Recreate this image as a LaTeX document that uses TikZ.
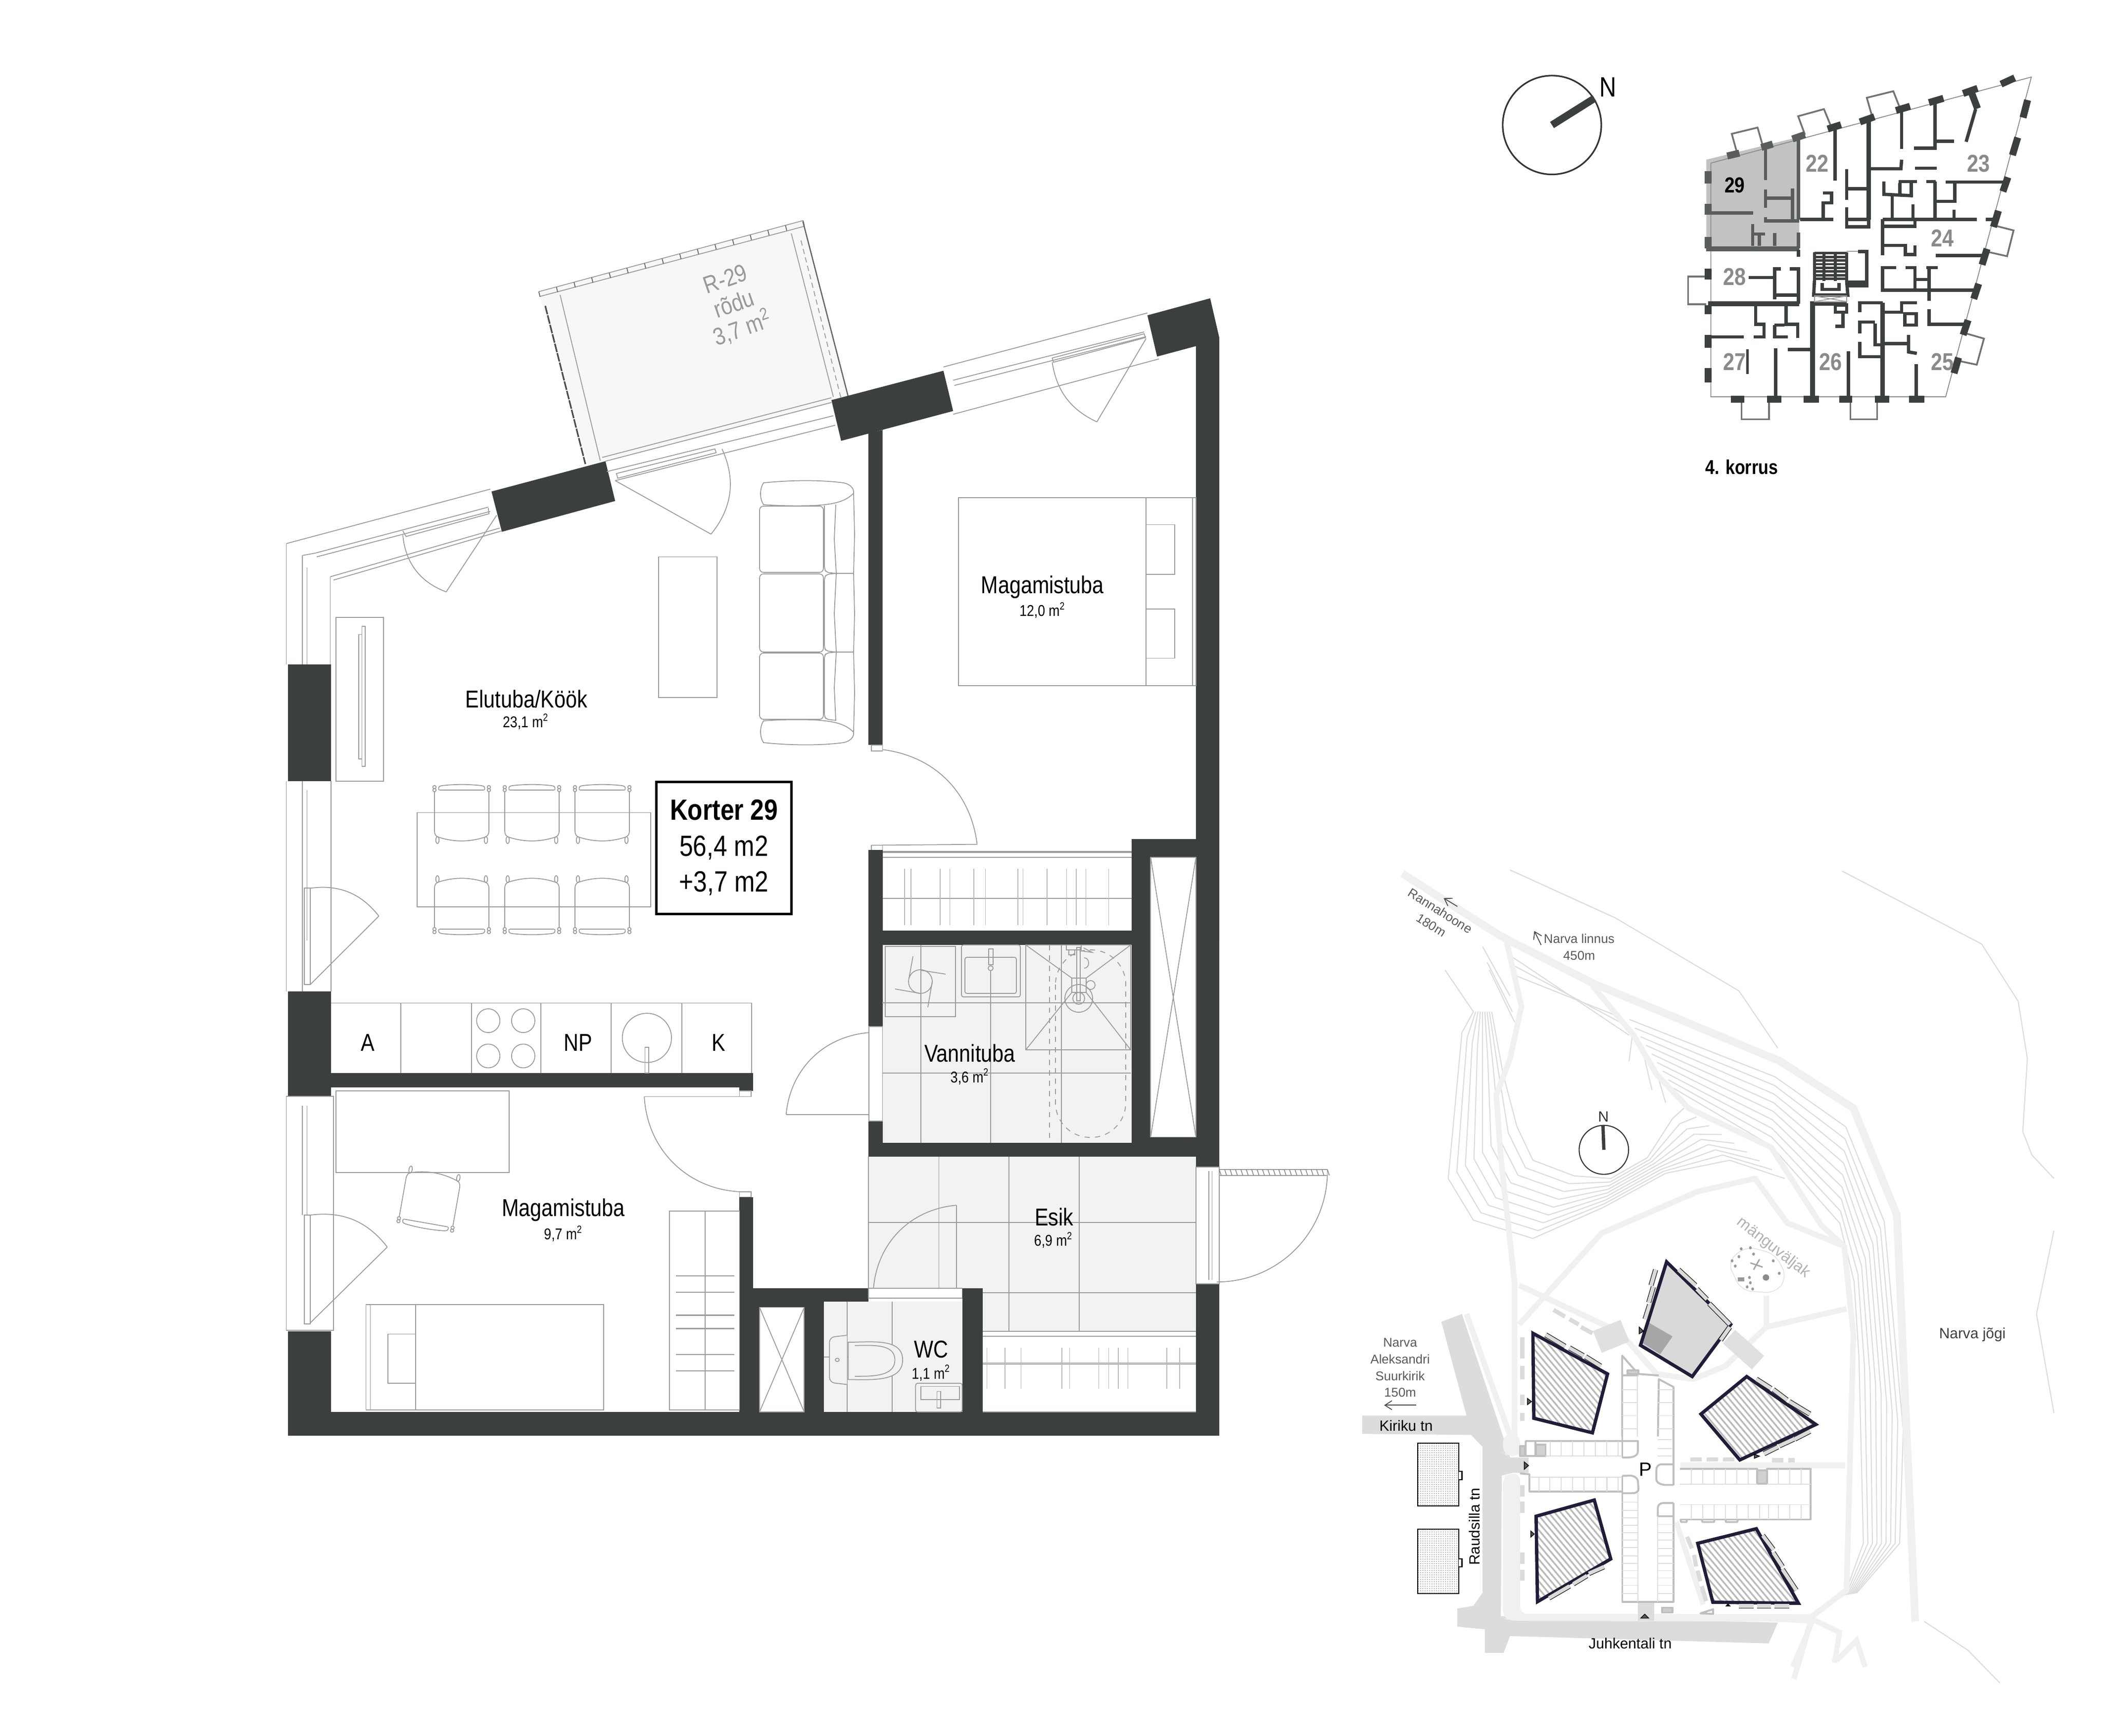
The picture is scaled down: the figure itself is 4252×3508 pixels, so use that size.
\documentclass[tikz,border=0pt]{standalone}
\usepackage{fontspec}
\setmainfont[FakeStretch=0.84]{Liberation Sans}
\newfontfamily\sitefont{Liberation Sans}
\usetikzlibrary{calc,patterns,patterns.meta,arrows.meta,shapes.geometric}
\definecolor{wall}{HTML}{3C3F3F}
\definecolor{wall2}{HTML}{5A5D5D}
\definecolor{fur}{HTML}{9C9C9C}
\definecolor{tile}{HTML}{F2F2F2}
\definecolor{glab}{HTML}{8A8A8A}
\definecolor{pathg}{HTML}{F0F0F0}
\definecolor{cont}{HTML}{DCDCDC}
\definecolor{road}{HTML}{DCDCDC}
\definecolor{bld}{HTML}{221C38}
\tikzset{
 z1/.style={shift={(500,400)},x=0.013074cm,y=-0.009566cm},
 z2/.style={shift={(500,1700)},x=0.013074cm,y=-0.008291cm},
 z3/.style={shift={(3000,100)},x=0.007653cm,y=-0.00574cm},
 z4/.style={shift={(2700,1750)},x=0.009247cm,y=-0.010523cm},
 z5/.style={shift={(3000,2900)},x=0.00574cm,y=-0.00333cm},
 wl/.style={fill=wall,draw=none},
 fu/.style={draw=fur,line width=.5pt},
 fl/.style={draw=fur!70,line width=.4pt},
 lb/.style={inner sep=0pt,align=center,font=\fontsize{14}{17}\selectfont},
 ls/.style={inner sep=0pt,align=center,font=\fontsize{9}{11}\selectfont},
 lk/.style={inner sep=0pt,align=center,font=\fontsize{16.8}{20.6}\selectfont},
 kn/.style={inner sep=0pt,font=\bfseries\fontsize{14}{16}\selectfont,text=glab},
 kw/.style={draw=wall,line width=1.9pt},
 kb/.style={draw=wall,line width=4pt},
 ku/.style={draw=wall2,line width=1.9pt},
 kub/.style={draw=wall2,line width=4pt},
 kbal/.style={draw=black!55,line width=1pt},
 sp1/.style={draw=pathg,line width=4.4pt,line join=round},
 sp2/.style={draw=pathg,line width=3.2pt,line join=round},
 ct/.style={draw=cont,line width=.6pt,line join=round},
 pk/.style={draw=black!25,line width=1.1pt,line join=round},
 pkt/.style={draw=black!13,line width=.5pt},
 bd/.style={draw=bld,line width=1.9pt,line join=miter},
 st/.style={inner sep=0pt,align=center,text=black!65,font=\sitefont\fontsize{7.3}{9.6}\selectfont},
 sb/.style={inner sep=0pt,font=\sitefont\fontsize{8.5}{10}\selectfont},
 tri/.style={fill=black!65,draw=black,line width=.4pt},
 dsh/.style={draw=black!14,line width=2.4pt},
 chairp/.pic={
  \draw[fu] (-55,0) -- (-55,78) .. controls (-55,88) and (-52,91) .. (-44,93) .. controls (-15,102) and (15,102) .. (44,93) .. controls (52,91) and (55,88) .. (55,78) -- (55,0);
  \draw[fu] (-45,-3) -- (45,-3);
  \draw[fu] (-46,-3) .. controls (-48,-10) and (-45,-11) .. (-40,-12) .. controls (-15,-15) and (15,-15) .. (40,-12) .. controls (45,-11) and (48,-10) .. (46,-3);
  \foreach \s in {-1,1}{
   \draw[fu] (\s*55,-9) circle (3.3); \draw[fu] (\s*55,-3) circle (3.3);
   \draw[fu] (\s*49,98) circle [x radius=3.3,y radius=7];
  }
 }
}
\newcommand{\balc}[2]{\draw[draw=black!85,line width=2.9pt] #1 -- #2; \draw[draw=black!14,line width=2.1pt] #1 -- #2;}
\begin{document}
\begin{tikzpicture}[x=0.01cm,y=-0.01cm]
\useasboundingbox (0,0) rectangle (4252,3508);
\fill[white] (0,0) rectangle (4252,3508);

%% ---------- PLAN upper
\begin{scope}[z1]
 \fill[tile!60!white] (450,200) -- (858,50) -- (929,425) -- (527,565) -- cycle;
 \coordinate (ha) at (450,198); \coordinate (hb) at (858,48);
 \draw[fu] (ha) -- (hb);
 \draw[fu] (452,208) -- (860,60);
 \foreach \t in {0,0.0667,...,1.01} \draw[draw=black!60,line width=.5pt] ($(ha)!\t!(hb)$) -- +(2,11);
 \draw[draw=black!70,line width=.9pt,dash pattern=on 5pt off .6pt] (460,228) -- (522,562);
 \draw[fu] (483,205) -- (545,555);
 \draw[fu] (840,75) -- (905,420);
 \draw[draw=black!60,line width=.7pt] (858,50) -- (928,420);
 \draw[fu,densely dashed] (855,90) -- (920,440);
 % facade blocks
 \fill[wl] (377,620) -- (553,556) -- (568,640) -- (393,705) -- cycle;
 \fill[wl] (902,427) -- (1075,365) -- (1090,450) -- (917,513) -- cycle;
 \fill[wl] (1390,248) -- (1487,212) -- (1501,295) -- (1501,1568) -- (1465,1568) -- (1465,313) -- (1405,335) -- cycle;
 \fill[wl] (959,497) -- (981,490) -- (981,1155) -- (959,1155) -- cycle;
 \fill[wl] (63,985) rectangle (129,1232);
 % west top window
 \draw[fu] (60,730) -- (375,615);
 \draw[fu] (105,750) -- (372,653); \draw[fu] (107,758) -- (375,662);
 \draw[fu] (128,800) -- (390,697); \draw[fu] (133,807) -- (393,703);
 \draw[fu] (60,730) -- (60,985); \draw[fu] (85,755) -- (85,985); \draw[fu] (92,780) -- (92,985);
 \draw[fu] (128,800) -- (128,985); \draw[fu] (85,755) -- (105,750);
 \draw[fu] (240,703) -- (245,715) -- (373,667) -- (372,655);
 \draw[fu] (240,712) to[bend right=32] (307,832);
 \draw[fu] (307,832) -- (385,670);
 % balcony door
 \draw[fu] (548,548) -- (902,422); \draw[fu] (553,556) -- (902,432);
 \draw[fu] (555,578) -- (905,460); \draw[fu] (568,597) -- (908,480);
 \draw[fu] (570,582) -- (722,530) -- (724,538) -- (572,592) -- cycle;
 \draw[fu] (568,597) -- (716,710);
 \draw[fu] (716,710) to[bend right=32] (733,530);
 % east top window
 \draw[fu] (1075,357) -- (1390,243); \draw[fu] (1090,457) -- (1408,340);
 \draw[fu] (1090,385) -- (1385,283); \draw[fu] (1092,396) -- (1388,293);
 \draw[fu] (1243,338) -- (1385,287) -- (1387,295) -- (1245,347) -- cycle;
 \draw[fu] (1243,347) to[bend right=28] (1312,473);
 \draw[fu] (1312,473) -- (1388,297);
 % coffee table, TV
 \draw[fu] (635,758) rectangle (725,1055);
 \draw[fu] (137,886) rectangle (210,1232);
 \draw[fu] (172,922) rectangle (177,1185); \draw[fu] (177,905) rectangle (182,1200);
 % bed 12
 \draw[fu] (1098,633) rectangle (1465,1030);
 \draw[fu] (1388,633) -- (1388,1030); \draw[fu] (1460,633) -- (1460,1030);
 \draw[fu] (1388,690) rectangle (1432,795); \draw[fu] (1388,868) rectangle (1432,972);
 % door to bedroom
 \draw[fu] (964,1155) rectangle (981,1168);
 \draw[fu] (981,1165) to[bend left=38] (1127,1365);
 \draw[fu] (964,1367) -- (1127,1365);
 \draw[fu] (964,1367) rectangle (981,1380);
 \draw[fu] (981,1380) -- (1366,1380); \draw[fu] (981,1392) -- (1366,1392);
 % west window
 \draw[fu] (60,1232) -- (60,1568); \draw[fu] (85,1232) -- (85,1568); \draw[fu] (92,1250) -- (92,1568); \draw[fu] (129,1232) -- (129,1568);
 % dining
 \draw[fu] (262,1298) rectangle (623,1497);
 % Korter box
 \coordinate (ka) at (632,1233); \coordinate (kb) at (840,1512);
 \draw[black,line width=1.4pt,fill=white] (ka) rectangle (kb);
 \node[lk] (korter) at (736,1372) {\textbf{Korter 29}\\56,4 m2\\+3,7 m2};
 \node[lb,text=black!40,rotate=19,font=\fontsize{14}{15}\selectfont] (rodu) at (752,226) {R-29\\rõdu\\3,7 m\textsuperscript{2}};
 \node[lb] (lel) at (431,1058) {Elutuba/Köök};
 \node[ls] (lela) at (430,1106) {23,1 m\textsuperscript{2}};
 \node[lb] (lm1) at (1228,822) {Magamistuba};
 \node[ls] (lm1a) at (1228,871) {12,0 m\textsuperscript{2}};
\end{scope}
% sofa
\draw[fu] (1543,976) .. controls (1600,970) and (1660,970) .. (1705,976) .. controls (1722,980) and (1726,990) .. (1725,997) .. controls (1710,1012) and (1690,1020) .. (1640,1022) .. controls (1600,1023) and (1570,1022) .. (1543,1020) .. controls (1535,1008) and (1535,988) .. (1543,976) -- cycle;
\draw[fu] (1543,1501) .. controls (1600,1507) and (1660,1507) .. (1705,1501) .. controls (1722,1497) and (1726,1487) .. (1725,1480) .. controls (1710,1465) and (1690,1457) .. (1640,1455) .. controls (1600,1454) and (1570,1455) .. (1543,1457) .. controls (1535,1469) and (1535,1489) .. (1543,1501) -- cycle;
\foreach \a/\b in {1023/1157,1160/1318,1320/1454}{
  \draw[fu,rounded corners=.8mm] (1535,\a) rectangle (1664,\b);
}
\draw[fu,rounded corners=.6mm] (1666,1022) -- (1666,1150) -- (1670,1157) -- (1690,1159);
\draw[fu,rounded corners=.6mm] (1690,1159) -- (1670,1161) -- (1666,1168) -- (1666,1310) -- (1670,1316) -- (1690,1318);
\draw[fu,rounded corners=.6mm] (1690,1318) -- (1670,1320) -- (1666,1326) -- (1666,1448) -- (1670,1454) -- (1690,1456);
\draw[fu] (1689,1020) -- (1686,1090) -- (1690,1159) -- (1686,1240) -- (1690,1318) -- (1686,1390) -- (1689,1456);
\draw[fu] (1725,997) -- (1727,1080) -- (1725,1159) -- (1727,1240) -- (1725,1318) -- (1727,1400) -- (1725,1480);
\draw[fu] (1690,1159) -- (1725,1159); \draw[fu] (1690,1318) -- (1725,1318);
% chairs
\foreach \x in {933,1075,1217}{
 \pic at (\x,1600) {chairp};
 \pic[yscale=-1] at (\x,1875) {chairp};
}

%% ---------- PLAN lower
\begin{scope}[z2]
 % tiles
 \fill[tile] (981,253) rectangle (1366,736);
 \fill[tile] (959,770) rectangle (1465,1392);
 \fill[tile] (890,1123) rectangle (1104,1392);
 \fill[white] (959,1090) rectangle (1136,1123);
 \fill[white] (1136,1195) rectangle (1465,1392);
 % walls
 \fill[wl] (63,367) rectangle (129,622);
 \fill[wl] (63,1195) rectangle (129,1450);
 \fill[wl] (63,1392) rectangle (1501,1450);
 \fill[wl] (129,566) rectangle (781,601);
 \fill[wl] (760,600) rectangle (781,609);
 \fill[wl] (959,22) rectangle (981,452);
 \fill[wl] (959,683) rectangle (981,770);
 \fill[wl] (981,218) rectangle (1366,253);
 \fill[wl] (959,736) rectangle (1465,770);
 \fill[wl] (1366,-5) rectangle (1395,770);
 \fill[wl] (1366,-5) rectangle (1501,40);
 \fill[wl] (1395,722) rectangle (1465,770);
 \fill[wl] (1465,-10) rectangle (1501,795);
 \fill[wl] (1465,1080) rectangle (1501,1450);
 \fill[wl] (760,868) rectangle (781,1392);
 \fill[wl] (781,1090) rectangle (791,1392);
 \fill[wl] (781,1090) rectangle (959,1123);
 \fill[wl] (781,1123) rectangle (890,1137);
 \fill[wl] (860,1137) rectangle (890,1392);
 \fill[wl] (1104,1090) rectangle (1136,1392);
 % shafts
 \fill[white] (1395,40) rectangle (1465,722);
 \draw[fu] (1395,40) rectangle (1465,722); \draw[fu] (1395,40) -- (1465,722); \draw[fu] (1465,40) -- (1395,722);
 \draw[fu] (791,1137) rectangle (860,1392); \draw[fu] (791,1137) -- (860,1392); \draw[fu] (860,1137) -- (791,1392);
 % west windows / doors
 \draw[fu] (60,-40) -- (60,367); \draw[fu] (85,-40) -- (85,367); \draw[fu] (129,-40) -- (129,367);
 \draw[fu] (88,115) rectangle (97,350);
 \draw[fu] (97,115) to[bend left=30] (203,183);
 \draw[fu] (203,183) -- (97,350);
 \draw[fu] (60,622) rectangle (133,1193);
 \draw[fu] (85,645) -- (85,912); \draw[fu] (92,645) -- (92,912);
 \draw[fu] (88,912) rectangle (97,1177);
 \draw[fu] (97,912) to[bend left=30] (216,990);
 \draw[fu] (216,990) -- (97,1175);
 \draw[fu] (60,1193) -- (129,1193);
 % kitchen
 \draw[fu] (129,395) -- (779,395) -- (779,566);
 \foreach \x in {237,346,453,562,671} \draw[fu] (\x,395) -- (\x,566);
 \foreach \x/\y in {372/438,426/438,372/524,426/524} \draw[fu] (\x,\y) ellipse [x radius=18,y radius=29];
 \draw[fu] (617,480) ellipse [x radius=38,y radius=60];
 \draw[fu] (614,503) rectangle (620,566);
 \node[lb] (kA) at (186,492) {A};
 \node[lb] (kNP) at (511,492) {NP};
 \node[lb] (kK) at (728,492) {K};
 % bedroom 2
 \draw[fu] (137,609) rectangle (404,808);
 \draw[fu] (183,1130) rectangle (550,1387);
 \draw[fu] (190,1130) -- (190,1387); \draw[fu] (260,1130) -- (260,1387);
 \draw[fu] (217,1202) rectangle (260,1322);
 \draw[fu] (652,902) rectangle (760,1387);
 \draw[fu] (707,902) -- (707,1387);
 \foreach \y in {1060,1100,1155,1190,1252,1292} \draw[fu] (662,\y) -- (752,\y);
 \draw[fu] (662,1157) -- (752,1157); \draw[fu] (662,1188) -- (752,1188);
 \draw[fu] (760,609) rectangle (778,623);
 \draw[fu] (613,623) -- (778,623);
 \draw[fu] (613,623) to[bend right=42] (760,855);
 \draw[fu] (760,855) rectangle (778,868);
 % bath door
 \fill[white] (960,452) rectangle (981,683);
 \draw[fu] (960,452) rectangle (981,683);
 \draw[fu] (960,467) to[bend right=40] (832,667);
 \draw[fu] (832,667) -- (960,667);
 % esik
 \foreach \x in {1068,1176,1285} \draw[fu] (\x,770) -- (\x,1090);
 \foreach \x in {1176,1285} \draw[fu] (\x,1090) -- (\x,1195);
 \draw[fu] (959,930) -- (1465,930); \draw[fu] (1136,1101) -- (1465,1101); \draw[fu] (959,770) -- (959,1090);
 \draw[fu] (1095,888) -- (1095,1090);
 \draw[fu] (1095,888) to[bend right=40] (967,1090);
 \draw[fu] (959,1090) rectangle (1104,1115);
 % hall wardrobe
 \draw[fu] (1136,1195) -- (1465,1195); \draw[fu] (1136,1207) -- (1465,1207);
 \draw[fu] (1136,1272) -- (1465,1272); \draw[fu] (1136,1275) -- (1465,1275);
 \draw[fu] (1136,1392) -- (1465,1392);
 \foreach \x in {1142,1170,1195,1258,1270,1315,1330,1345,1360,1420,1440} \draw[fl] (\x,1235) -- (\x,1335);
 % WC
 \draw[fu] (926,1123) -- (926,1392); \draw[fu] (996,1123) -- (996,1392);
 \draw[fu] (890,1258) -- (1010,1258);
 \draw[fu,fill=tile,rounded corners=1mm] (926,1205) -- (899,1210) -- (899,1320) -- (926,1325);
 \draw[fu,fill=tile] (928,1222) to[out=0,in=90] (1012,1265) to[out=-90,in=0] (928,1313) -- cycle;
 \draw[fu] (938,1230) to[out=0,in=90] (1000,1265) to[out=-90,in=0] (938,1305) ;
 \draw[fu] (911,1265) circle [x radius=3,y radius=4];
 \draw[fu,fill=tile,rounded corners=.4mm] (1032,1322) rectangle (1104,1392);
 \draw[fu] (1040,1330) rectangle (1100,1362);
 \draw[fu] (1065,1342) rectangle (1071,1382);
 % entrance door
 \draw[fu] (1465,795) rectangle (1501,1080);
 \draw[fu] (1485,805) -- (1485,1070); \draw[fu] (1490,805) -- (1490,1070);
 \coordinate (da) at (1501,801); \coordinate (db) at (1668,801);
 \draw[fu,fill=white] (1501,801) rectangle (1668,815);
 \foreach \t in {0,0.05,...,1.01} \draw[draw=black!50,line width=.4pt] ($(da)!\t!(db)$) -- +(3,14);
 \draw[fu] (1668,815) to[bend left=44] (1497,1075);
 % labels
 \node[lb] (lm2) at (488,900) {Magamistuba};
 \node[ls] (lm2a) at (488,957) {9,7 m\textsuperscript{2}};
 \node[lb] (le) at (1246,917) {Esik};
 \node[ls] (lea) at (1245,973) {6,9 m\textsuperscript{2}};
 \node[lb] (lw) at (1056,1240) {WC};
 \node[ls] (lwa) at (1056,1297) {1,1 m\textsuperscript{2}};
 % wardrobe top
 \draw[fu] (981,28) -- (1366,28); \draw[fu] (981,40) -- (1366,40); \draw[fu] (981,140) -- (1366,140);
 \foreach \x in {1015,1025,1070,1085,1122,1140,1190,1198,1235,1265,1280,1295,1330} \draw[fl] (\x,68) -- (\x,205);
\end{scope}
% bathroom fixtures
\draw[fu] (1783,2027) -- (2285,2027); \draw[fu] (1783,2169) -- (2285,2169);
\foreach \x in {1861,2002,2145} \draw[fu] (\x,1910) -- (\x,2310);
\draw[fu] (1789,1913) rectangle (1931,2055);
\draw[fu] (1860,1984) circle (24);
\draw[fu] (1845,1933) -- (1837,1977); \draw[fu] (1860,1961) -- (1911,1969); \draw[fu] (1884,1984) -- (1875,2036); \draw[fu] (1860,2008) -- (1809,1999);
\draw[fu,fill=tile,rounded corners=.4mm] (1943,1910) rectangle (2062,2015);
\draw[fu,rounded corners=.4mm] (1950,1935) rectangle (2054,2008);
\draw[fu] (1998,1918) rectangle (2007,1950); \draw[fu] (2002,1957) circle (5);
\draw[fu] (2002,1962) -- (2002,2027);
\draw[fu] (2073,1910) rectangle (2285,2122);
\draw[fu] (2073,1910) -- (2166,1977); \draw[fu] (2285,1910) -- (2195,1977);
\draw[fu] (2166,1977) rectangle (2195,2006);
\draw[fu] (2166,2006) -- (2073,2122); \draw[fu] (2195,2006) -- (2285,2122);
\draw[fu,dashed] (2121,1910) -- (2121,2310);
\draw[fu,dashed,rounded corners=7mm] (2133,1920) rectangle (2275,2299);
\draw[fu] (2180,2018) circle (28); \draw[fu] (2180,2018) circle (12);
\draw[fu] (2176,1915) rectangle (2183,2023);
\draw[fu] (2204,1991) circle (9);
\draw[fu] (2191,1936) .. controls (2203,1936) and (2203,1957) .. (2191,1957);
\draw[fu] (2155,1910) -- (2155,1920) -- (2185,1920) -- (2185,1910);
\draw[fu] (2160,1920) rectangle (2172,1930); \draw[fu] (2185,1922) -- (2207,1925) -- (2190,1916);
\node[lb] (lv) at (1960,2129) {Vannituba};
\node[ls] (lva) at (1960,2176) {3,6 m\textsuperscript{2}};
\pic[rotate=-10,yscale=-1] at (861,2469) {chairp};

%% ---------- KEY PLAN
\begin{scope}[z3]
 \draw[draw=black!80,line width=.9pt] (178,266) ellipse [x radius=130,y radius=174];
 \draw[draw=wall,line width=4.2pt] (178,266) -- (290,172);
 \node[inner sep=0pt,font=\fontsize{16}{18}\selectfont] (compN) at (326,132) {N};
 \fill[black!24] (585,388) -- (830,308) -- (830,705) -- (585,705) -- cycle;
 \draw[draw=black!45,line width=.5pt] (597,400) -- (1442,97) -- (1216,1223) -- (597,1223) -- cycle;
 % balconies
 \draw[kbal] (665,360) -- (652,297) -- (720,275) -- (733,335);
 \draw[kbal] (845,300) -- (827,235) -- (895,210) -- (915,275);
 \draw[kbal] (1022,235) -- (1008,170) -- (1078,147) -- (1095,205);
 \draw[kbal] (1345,620) -- (1395,637) -- (1378,728) -- (1325,712);
 \draw[kbal] (1270,1000) -- (1317,1018) -- (1298,1110) -- (1245,1095);
 \draw[kbal] (583,800) -- (537,800) -- (537,897) -- (585,897);
 \draw[kbal] (678,1235) -- (678,1302) -- (750,1302) -- (750,1235);
 \draw[kbal] (965,1235) -- (965,1302) -- (1035,1302) -- (1035,1235);
 % blocks
 \foreach \a/\b/\c/\d in {905/280/940/265,990/255/1028/237,1085/215/1122/200,1172/187/1210/172,1262/155/1300/137,1362/122/1398/100,
   1432/178/1420/240,1406/310/1392/372,1380/450/1367/500,1355/568/1342/625,1325/702/1312/758,1303/825/1290/878,1275/953/1262/1005,1250/1085/1238/1140,
   590/772/590/810,590/900/590/932,590/1005/590/1050,590/1122/590/1172,
   650/1231/685/1231,745/1231/783/1231,842/1231/882/1231,935/1231/970/1231,1030/1231/1067/1231,1120/1231/1160/1231}
   \draw[kb] (\a,\b) -- (\c,\d);
 \foreach \a/\b/\c/\d in {640/375/672/365,730/345/760/333,812/315/845/300,590/428/590/472,590/543/590/582,590/660/590/700}
   \draw[kub] (\a,\b) -- (\c,\d);
 % unit 29
 \draw[ku] (741,340) -- (741,460); \draw[ku] (741,493) -- (741,558); \draw[ku] (741,523) -- (807,523);
 \draw[ku] (812,490) -- (812,600); \draw[ku] (741,590) -- (741,603) -- (830,603); \draw[ku] (590,576) -- (708,576);
 \draw[ku] (707,615) -- (707,692); \draw[ku] (707,650) -- (740,650); \draw[ku] (765,647) -- (765,692);
 \draw[ku] (828,645) -- (828,700); \draw[ku] (828,315) -- (828,600);
 \draw[ku] (725,655) -- (725,692);
 \draw[ku,line width=2.8pt] (585,702) -- (830,702);
 % 22
 \draw[kw] (924,280) -- (924,462); \draw[kw,line width=2.6pt] (1013,248) -- (1013,600);
 \draw[kw] (955,422) -- (955,530); \draw[kw] (955,555) -- (955,625) -- (1013,625) -- (1013,600);
 \draw[kw] (955,490) -- (1013,490); \draw[kw] (832,598) -- (920,598);
 \draw[kw] (893,598) -- (893,540) -- (915,540) -- (915,505) -- (893,505); \draw[kw] (952,598) -- (1013,598);
 % 23
 \draw[kw] (1100,215) -- (1100,350); \draw[kw] (1188,190) -- (1188,348) -- (1133,348); \draw[kw] (1188,323) -- (1238,323);
 \draw[kb] (1285,155) -- (1300,208); \draw[kw] (1295,210) -- (1270,325);
 \draw[kw] (1017,420) -- (1098,420) -- (1100,388); \draw[kw] (1135,418) -- (1192,418);
 \draw[kw] (1053,465) -- (1053,510) -- (1130,515); \draw[kw] (1075,515) -- (1075,600); \draw[kw] (1130,545) -- (1130,600);
 \draw[kw] (1092,465) -- (1140,465); \draw[kw] (1095,470) -- (1095,515); \draw[kw] (1125,470) -- (1125,515); \draw[kw] (1165,465) -- (1190,465);
 \draw[kw] (1188,465) -- (1188,595); \draw[kw] (1216,467) -- (1368,467); \draw[kw] (1240,470) -- (1240,535) -- (1188,535);
 \draw[kw] (1238,565) -- (1238,595); \draw[kw] (1050,598) -- (1298,598); \draw[kw] (1322,598) -- (1345,598);
 % 24
 \draw[kw] (1050,598) -- (1050,725); \draw[kw] (1050,690) -- (1110,690) -- (1110,722) -- (1135,722) -- (1135,690);
 \draw[kw] (1050,623) -- (1135,623) -- (1135,598); \draw[kw] (1190,725) -- (1315,725);
 \draw[kw] (1085,768) -- (1050,768) -- (1050,848) -- (1295,848);
 \draw[kw] (1110,768) -- (1135,768) -- (1135,848); \draw[kw] (1165,768) -- (1195,768); \draw[kw] (1172,768) -- (1172,885);
 \draw[kw] (1135,810) -- (1172,810);
 % 25
 \draw[kw] (1172,915) -- (1172,968) -- (1268,968); \draw[kw] (1140,892) -- (1100,892) -- (1100,925) -- (1050,925);
 \draw[kw] (1108,930) rectangle (1138,970);
 \draw[kw] (1050,1035) -- (1118,1035); \draw[kw] (1118,1005) -- (1118,1065) -- (1140,1070); \draw[kw] (1138,1108) -- (1138,1223);
 \draw[kw,line width=2.6pt] (1050,892) -- (1050,1223);
 % 26
 \draw[kw,line width=2.6pt] (865,1223) -- (865,895) -- (955,895); \draw[kw] (800,1057) -- (865,1057);
 \draw[kw] (925,900) rectangle (955,925); \draw[kw] (945,925) -- (945,975) -- (925,975);
 \draw[kw] (960,1062) -- (960,1223); \draw[kw] (990,925) -- (990,892) -- (1050,892);
 \draw[kw] (990,955) -- (990,1000); \draw[kw] (990,1030) -- (990,1082) -- (1050,1082); \draw[kw] (990,960) -- (1030,960);
 \draw[kw] (1030,965) -- (1030,1040) -- (1050,1040);
 % 27
 \draw[kw,line width=2.8pt] (590,895) -- (830,895); \draw[kw] (715,895) -- (715,968) -- (737,968) -- (737,1012) -- (710,1012);
 \draw[kw] (795,895) -- (795,968) -- (826,968) -- (826,1015); \draw[kw] (765,970) -- (765,1012) -- (800,1012);
 \draw[kw] (765,970) -- (790,970); \draw[kw] (590,1012) -- (683,1012); \draw[draw=wall,line width=1.4pt] (693,1055) -- (693,1142); \draw[kw] (768,1052) -- (768,1223);
 % 28
 \draw[kw] (697,803) -- (765,803); \draw[kw] (782,772) -- (765,772) -- (765,880);
 \draw[kw] (805,772) -- (828,772) -- (828,895); \draw[kw] (770,865) -- (828,865); \draw[kw] (828,705) -- (828,730);
 % stair
 \foreach \y in {717,730,743,756,769,782,795,808} \draw[draw=wall,line width=1.4pt] (870,\y) -- (955,\y);
 \draw[kw] (870,715) -- (870,815); \draw[kw] (895,715) -- (895,815); \draw[kw] (925,715) -- (925,815); \draw[kw] (955,715) -- (955,815);
 \draw[kw] (870,815) -- (868,865) -- (958,865) -- (955,815); \draw[kw] (890,822) -- (890,845) -- (935,845) -- (935,822);
 \draw[kb] (955,826) -- (1012,826); \draw[kw] (985,711) -- (1012,711); \draw[kw] (1008,711) -- (1008,830); \draw[fu] (955,711) -- (985,711);
 \draw[fu] (870,868) rectangle (955,888); \draw[fu] (870,868) -- (955,888); \draw[fu] (955,868) -- (870,888);
 % labels
 \node[kn] (k22) at (878,402) {22}; \node[kn] (k23) at (1303,402) {23}; \node[kn] (k24) at (1208,665) {24};
 \node[kn] (k25) at (1208,1100) {25}; \node[kn] (k26) at (912,1100) {26}; \node[kn] (k27) at (660,1100) {27};
 \node[kn] (k28) at (660,800) {28};
 \node[kn,text=black,font=\bfseries\fontsize{12.5}{14}\selectfont] (k29) at (660,478) {29};
 \node[inner sep=0pt,font=\bfseries\fontsize{11.5}{14}\selectfont] (kfloor) at (678,1470) {4. korrus};
\end{scope}

%% ---------- SITE PLAN
\begin{scope}[z4]
 % roads
 \fill[road] (57,1055) -- (285,1055) -- (230,875) -- (275,860) -- (380,1135) -- (385,1165) -- (362,1170) -- (360,1440) -- (965,1452) -- (945,1492) -- (380,1478) -- (366,1510) -- (325,1510) -- (325,1465) -- (265,1460) -- (265,1425) -- (300,1420) -- (320,1395) -- (320,1115) -- (295,1092) -- (57,1090) -- cycle;
 \fill[road] (362,1135) rectangle (420,1165);
 \draw[sp2] (285,860) -- (395,1130);
 % contours family A
 \foreach \n/\ix/\iy/\ox/\oy in {1/340/280/300/280,2/365/400/275/320,3/395/500/245/600,4/430/565/300/680,5/520/595/430/715,6/600/600/585/655,7/680/560/720/590,8/735/485/860/565,9/760/465/980/600}{
   \coordinate (AI\n) at (\ix,\iy); \coordinate (AO\n) at (\ox,\oy);}
 \foreach \t in {0,0.125,...,1.01}
   \draw[ct] ($(AI1)!\t!(AO1)$) -- ($(AI2)!\t!(AO2)$) -- ($(AI3)!\t!(AO3)$) -- ($(AI4)!\t!(AO4)$) -- ($(AI5)!\t!(AO5)$) -- ($(AI6)!\t!(AO6)$) -- ($(AI7)!\t!(AO7)$) -- ($(AI8)!\t!(AO8)$) -- ($(AI9)!\t!(AO9)$);
 % contours family B
 \foreach \n/\ix/\iy/\ox/\oy in {1/740/430/630/280,2/950/540/960/390,3/1100/690/1115/480,4/1130/800/1205/670,5/1140/940/1250/1100,6/1150/1300/1240/1300,7/1110/1400/1140/1395}{
   \coordinate (BI\n) at (\ix,\iy); \coordinate (BO\n) at (\ox,\oy);}
 \foreach \t in {0.02,0.13,...,1.01}
   \draw[ct] ($(BI1)!\t!(BO1)$) -- ($(BI2)!\t!(BO2)$) -- ($(BI3)!\t!(BO3)$) -- ($(BI4)!\t!(BO4)$) -- ($(BI5)!\t!(BO5)$) -- ($(BI6)!\t!(BO6)$) -- ($(BI7)!\t!(BO7)$);
 % misc. lines
 \draw[ct] (238,200) -- (300,280);
 \draw[ct] (320,155) -- (380,250); \draw[ct] (330,185) -- (385,280); \draw[ct] (335,200) -- (390,300);
 \draw[ct] (385,175) -- (640,325); \draw[ct] (385,190) -- (620,300); \draw[ct] (390,210) -- (605,285);
 \draw[ct] (648,320) -- (640,375); \draw[ct] (670,355) -- (690,430); \draw[ct] (700,395) -- (720,455);
 \draw[ct] (380,8) -- (610,100) -- (880,240) -- (965,350);
 \draw[ct] (1105,10) -- (1410,150) -- (1490,260) -- (1510,370) -- (1500,510) -- (1520,555) -- (1568,600);
 \draw[ct] (1568,700) -- (1530,860) -- (1568,1050);
 \draw[ct] (1285,1450) -- (1380,1505) -- (1450,1568);
 % paths
 \draw[sp1] (145,15) -- (360,135) -- (560,225) -- (970,375) -- (1130,465) -- (1225,670) -- (1265,1450);
 \draw[sp2] (370,135) -- (405,270) -- (380,370) -- (350,440) -- (360,560) -- (390,800) -- (390,1100);
 \draw[sp2] (560,230) -- (650,325) -- (700,400) -- (770,465) -- (950,540) -- (1060,690) -- (1110,730) -- (1130,900) -- (1115,1390) -- (1040,1440) -- (1000,1560);
 \draw[sp2] (400,805) -- (620,895);
 \draw[sp2] (400,880) -- (580,705) -- (790,625) -- (915,600) -- (985,685) -- (1110,730);
 \draw[sp2] (940,885) -- (1115,850); \draw[sp2] (940,825) -- (940,885) -- (850,960) -- (780,985) -- (700,975) -- (625,900);
 % compass
 \draw[draw=black!80,line width=.6pt] (585,545) ellipse [x radius=54,y radius=47];
 \draw[draw=wall,line width=1.9pt] (583,498) -- (585,545);
 \node[inner sep=0pt,font=\sitefont\fontsize{8.5}{10}\selectfont,text=black!80] (siteN) at (584,481) {N};
 % dashes, stripes
 \fill[black!12,rotate around={22:(600,895)}] (565,880) rectangle (630,925);
 \fill[black!12,rotate around={-42:(890,925)}] (850,910) rectangle (935,945);
 \foreach \a/\b/\c/\d in {475/852/500/865,510/870/530/880,535/885/560/897,407/905/407/945,407/960/407/985,407/1015/407/1035,407/1050/407/1065}
   \draw[dsh] (\a,\b) -- (\c,\d);
 % playground
 \draw[draw=black!12,line width=.4pt,rounded corners=2mm] (855,760) -- (895,730) -- (960,745) -- (985,790) -- (960,820) -- (885,815) -- cycle;
 \draw[draw=black!35,line width=.8pt] (905,762) -- (932,770); \draw[draw=black!35,line width=.8pt] (912,775) -- (925,755);
 \fill[black!45] (939,790) circle [x radius=7,y radius=6];
 \fill[black!40] (878,790) rectangle (892,797);
 \foreach \x/\y in {865/758,872/768,885/735,905/733,912/745,955/758,968/782,905/800,898/808,910/812,903/790,880/750} \fill[black!40] (\x,\y) circle [x radius=3,y radius=3];
 % parking north part
 \draw[pk] (625,1095) -- (625,940) -- (660,975) -- (705,978); \draw[pk] (625,978) -- (660,978);
 \draw[pk] (737,1095) -- (737,1000) -- (705,985) -- (703,1095);
 \foreach \y in {1005,1030,...,1095} {\draw[pkt] (625,\y) -- (658,\y); \draw[pkt] (703,\y) -- (737,\y);}
 \draw[pkt] (658,978) -- (658,1095);
 \draw[pk,fill=black!18] (637,968) rectangle (660,975);
 % left houses
 \foreach \ya/\yb/\yc/\yd in {1108/1228/1162/1178,1273/1396/1330/1345}{
  \path[pattern={Dots[distance=1.3pt,radius=.28pt]},pattern color=black!45] (178,\ya) rectangle (268,\yb);
  \draw[black,line width=.6pt] (178,\ya) rectangle (268,\yb);
  \draw[black,line width=.6pt,fill=white] (268,\yc) -- (275,\yc) -- (275,\yd) -- (268,\yd);
 }
 % buildings
 \path[fill=black!15] (722,760) -- (862,880) -- (778,980) -- (665,920) -- cycle;
 \fill[black!35] (680,875) -- (735,903) -- (708,937) -- (668,915) -- cycle;
 \draw[bd] (722,760) -- (862,880) -- (778,980) -- (665,920) -- cycle;
 \foreach \p in {{(430,897) -- (593,975) -- (560,1088) -- (432,1060)},{(897,980) -- (1048,1072) -- (882,1140) -- (797,1052)},{(437,1248) -- (564,1217) -- (600,1330) -- (440,1412)},{(790,1300) -- (918,1272) -- (1010,1415) -- (823,1413)}}{
   \path[pattern={Lines[angle=-50,distance=2.7pt,line width=.95pt]},pattern color=black!27] \p -- cycle;
   \draw[bd] \p -- cycle;
 }
 % balcony strips
 \balc{(698,775)}{(688,805)} \balc{(693,808)}{(683,838)} \balc{(685,842)}{(675,870)}
 \balc{(748,775)}{(785,805)} \balc{(788,812)}{(810,832)} \balc{(815,840)}{(860,880)} \balc{(860,885)}{(840,910)}
 \balc{(458,900)}{(500,922)} \balc{(510,925)}{(540,940)} \balc{(545,942)}{(578,960)}
 \balc{(918,985)}{(950,1003)} \balc{(955,1005)}{(985,1025)} \balc{(990,1028)}{(1035,1052)}
 \balc{(1035,1085)}{(1002,1100)} \balc{(1000,1100)}{(968,1113)} \balc{(965,1115)}{(935,1128)}
 \balc{(465,1405)}{(510,1382)} \balc{(518,1378)}{(548,1362)} \balc{(552,1358)}{(585,1345)}
 \balc{(932,1285)}{(955,1312)} \balc{(955,1318)}{(975,1345)} \balc{(975,1350)}{(1005,1390)}
 \balc{(880,1420)}{(912,1420)} \balc{(920,1420)}{(950,1420)} \balc{(958,1420)}{(990,1420)}
 % triangles
 \fill[tri] (418,1022) -- (427,1028) -- (418,1034) -- cycle;
 \fill[tri] (662,885) -- (672,893) -- (662,898) -- cycle;
 % arrows
 \coordinate (ar1a) at (265,78); \coordinate (ar1b) at (235,62);
 \coordinate (ar2a) at (448,152); \coordinate (ar2b) at (433,125);
 \coordinate (ar3a) at (175,1035); \coordinate (ar3b) at (105,1035);
 \foreach \u/\v in {ar1a/ar1b,ar2a/ar2b,ar3a/ar3b}
   \draw[black!70,line width=.5pt,-{Straight Barb[length=1.4mm,width=1.8mm]}] (\u) -- (\v);
 % text
 \node[st,rotate=-32] (srann) at (218,100) {Rannahoone\\180m};
 \node[st] (slinn) at (531,156) {Narva linnus\\450m};
 \node[st] (ssuur) at (140,963) {Narva\\Aleksandri\\Suurkirik\\150m};
 \node[st,text=black!30,rotate=-38,font=\sitefont\fontsize{9}{11}\selectfont] (smang) at (955,733) {mänguväljak};
 \node[st,text=black!75,font=\sitefont\fontsize{8.5}{10}\selectfont] (sjogi) at (1390,900) {Narva jõgi};
 \node[sb] (skir) at (153,1074) {Kiriku tn};
 \node[sb,rotate=90] (srau) at (302,1268) {Raudsilla tn};
\end{scope}

%% site plan, south part
\begin{scope}[z5]
 % sidewalks and paths
 \fill[pathg,rounded corners=1.5mm] (65,0) -- (65,110) -- (80,130) -- (125,130) -- (125,0) -- cycle;
 \fill[pathg,rounded corners=1.5mm] (125,235) -- (80,235) -- (65,260) -- (65,1110) -- (85,1130) -- (1030,1135) -- (1170,1150) -- (1170,1090) -- (125,1088) -- cycle;
 \fill[road] (540,1015) rectangle (597,1130);
 \draw[draw=pathg,line width=3.4pt] (690,185) -- (1270,185);
 \draw[draw=pathg,line width=3pt] (675,530) -- (770,1030);
 \draw[draw=pathg,line width=3pt] (1165,1130) -- (1250,1200) -- (1232,1385);
 \draw[draw=pathg,line width=3pt] (1240,1370) -- (1310,1250) -- (1340,1410);
 \draw[draw=pathg,line width=3pt] (1155,1130) -- (1085,1410);
 % dashes
 \foreach \a/\b/\c/\d in {133/305/133/375,133/405/133/475,133/715/133/785,133/820/133/885,713/620/730/690,738/730/745/800,750/825/760/890,765/920/780/1010,725/150/765/150,782/150/822/150,840/150/880/150,1012/155/1052/155,1070/155/1092/155}
   \draw[dsh] (\a,\b) -- (\c,\d);
 % parking
 \draw[pk] (145,130) -- (145,38) -- (540,38) -- (540,100) .. controls (540,125) and (525,138) .. (505,138) -- (485,138);
 \draw[pk] (180,38) -- (180,130) -- (145,130);
 \draw[pk,fill=black!18] (182,60) rectangle (215,130);
 \draw[pk] (125,235) -- (158,240) -- (158,345) -- (485,345);
 \draw[pk] (485,355) -- (520,355) .. controls (535,355) and (542,345) .. (542,330) -- (540,280) .. controls (538,260) and (525,248) .. (510,248) -- (485,250);
 \draw[pk] (485,0) -- (485,138); \draw[pk] (485,250) -- (485,1015) -- (665,1015) -- (665,415);
 \draw[pk] (665,305) -- (665,0);
 \draw[pk] (665,180) -- (625,180) .. controls (610,180) and (605,195) .. (605,215) -- (605,270) .. controls (605,295) and (625,305) .. (640,305) -- (665,305);
 \draw[pk] (665,415) -- (630,415) .. controls (615,415) and (610,430) .. (610,450) -- (610,495) -- (665,495);
 \draw[pk] (688,208) -- (960,208) -- (960,215); \draw[pk] (995,215) -- (995,208) -- (1148,208) -- (1148,515) -- (688,515);
 \draw[pk,fill=black!18] (960,215) rectangle (995,298);
 \draw[pkt] (540,355) -- (540,1015); \draw[pkt] (610,495) -- (610,1015);
 \draw[pkt] (610,30) -- (660,30);
 \foreach \y in {410,460,505,550,595,640,685,735,780,825,870,915,965} \draw[pkt] (485,\y) -- (540,\y);
 \foreach \y in {545,595,640,690,735,780,825,870,915,965} \draw[pkt] (610,\y) -- (665,\y);
 \foreach \y in {85,130} \draw[pkt] (610,\y) -- (660,\y);
 \foreach \x in {232,270,310,350,390,430,470} {\draw[pkt] (\x,38) -- (\x,130); \draw[pkt] (\x-40,258) -- (\x-40,345);}
 \draw[pkt] (215,130) -- (485,130); \draw[pkt] (158,258) -- (485,258); \draw[pkt] (432,258) -- (432,345); \draw[pkt] (470,258) -- (470,345);
 \foreach \x in {728,768,808,848,888,928} {\draw[pkt] (\x,208) -- (\x,300); \draw[pkt] (\x,425) -- (\x,515);}
 \foreach \x in {1035,1075,1115} {\draw[pkt] (\x,208) -- (\x,300); \draw[pkt] (\x,425) -- (\x,515);}
 \foreach \x in {968,1000} \draw[pkt] (\x,425) -- (\x,515);
 \draw[pkt] (688,300) -- (960,300); \draw[pkt] (995,300) -- (1148,300); \draw[pkt] (688,425) -- (1148,425);
 \draw[pk] (690,515) -- (692,530) -- (712,530) -- (712,515);
 \draw[pk] (765,515) -- (767,530) -- (808,530) -- (810,515);
 \draw[pk] (848,515) -- (850,530) -- (890,530) -- (892,515);
 \draw[pk,fill=black!20] (125,70) rectangle (142,130);
 \draw[pk,fill=black!20] (625,1050) rectangle (662,1080);
 \draw[pk] (760,1085) -- (805,1060) -- (805,1088) -- cycle;
 % triangles
 \fill[tri] (140,165) -- (155,187) -- (140,210) -- cycle;
 \fill[tri] (163,585) -- (175,603) -- (163,622) -- cycle;
 \fill[tri] (950,118) -- (968,130) -- (950,143) -- cycle;
 \fill[black] (848,1042) -- (857,1025) -- (867,1042) -- cycle;
 \fill[tri] (550,1114) -- (564,1090) -- (578,1114) -- cycle;
 % text
 \node[sb] (sjuh) at (513,1268) {Juhkentali tn};
 \node[inner sep=0pt,font=\sitefont\fontsize{11}{13}\selectfont] (sP) at (567,210) {P};
\end{scope}
\end{tikzpicture}
\end{document}
